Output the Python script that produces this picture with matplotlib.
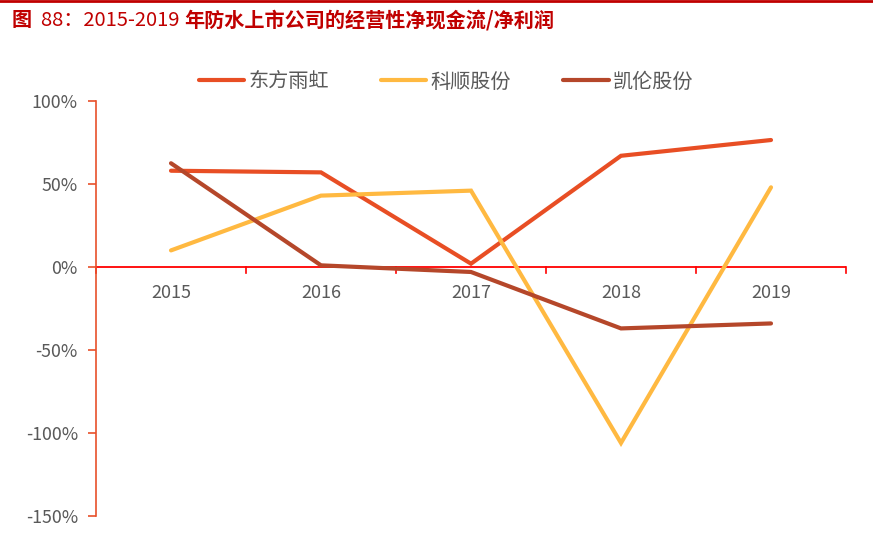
import matplotlib
matplotlib.use("Agg")
import matplotlib.pyplot as plt
from matplotlib.ticker import FuncFormatter

plt.rcParams['font.family'] = ['Noto Sans CJK SC', 'DejaVu Sans']

years = ["2015", "2016", "2017", "2018", "2019"]
dongfang = [0.58, 0.57, 0.02, 0.67, 0.765]
keshun = [0.10, 0.43, 0.46, -1.06, 0.48]
kailun = [0.625, 0.01, -0.03, -0.37, -0.34]
series_names = ["东方雨虹", "科顺股份", "凯伦股份"]
colors = ["#E84E24", "#FFB941", "#B5472A"]
yticks = [1.0, 0.5, 0.0, -0.5, -1.0, -1.5]

W, H = 873, 538
fig = plt.figure(figsize=(W/100, H/100), dpi=100)
ax = fig.add_axes([96/W, 22/H, 750/W, 415/H])

x = list(range(len(years)))
for vals, name, c in zip([dongfang, keshun, kailun], series_names, colors):
    ax.plot(x, vals, color=c, lw=3.0, label=name, solid_capstyle='round', solid_joinstyle='miter')

ax.set_xlim(-0.5, 4.5)
ax.set_ylim(-1.5, 1.0)
ax.set_yticks(yticks)
ax.yaxis.set_major_formatter(FuncFormatter(lambda v, p: f"{v*100:.0f}%"))
ax.set_xticks([])

for s in ['top', 'right', 'bottom']:
    ax.spines[s].set_visible(False)
ax.spines['left'].set_color('#E8502A')
ax.spines['left'].set_linewidth(1.2)
ax.tick_params(axis='y', colors='#E8502A', length=6, width=1.2, labelcolor='#595959', labelsize=12.8, pad=7)

# x axis at zero
ax.axhline(0, color='#FF0000', lw=1.3, zorder=1)
for b in [i - 0.5 for i in range(len(years) + 1)]:
    ax.plot([b, b], [0, -0.035], color='#FF0000', lw=1.2, clip_on=False, zorder=1)
for i, yl in enumerate(years):
    ax.text(i, -0.157, yl, ha='center', va='center', fontsize=13, color='#595959')

leg = fig.legend(loc='center', bbox_to_anchor=(446/W, 1 - 82/H), ncol=3, frameon=False,
                 fontsize=14.5, handlelength=2.25, columnspacing=2.6, handletextpad=0.2,
                 labelcolor='#595959')

# title in pieces: bold / regular / bold
pieces = [("图", 'bold'), ("  88：2015-2019 ", 'normal'), ("年防水上市公司的经营性净现金流/净利润", 'bold')]
fig.canvas.draw()
renderer = fig.canvas.get_renderer()
xpos = 12
for txt, wt in pieces:
    t = fig.text(xpos/W, 1 - 20/H, txt, fontsize=14.5, fontweight=wt, color='#C00000', va='center', ha='left')
    bb = t.get_window_extent(renderer=renderer)
    xpos += bb.width
fig.add_artist(plt.Line2D([0, 1], [1 - 1/H, 1 - 1/H], color='#C00000', lw=2, transform=fig.transFigure))

fig.savefig("out.png", dpi=100)
